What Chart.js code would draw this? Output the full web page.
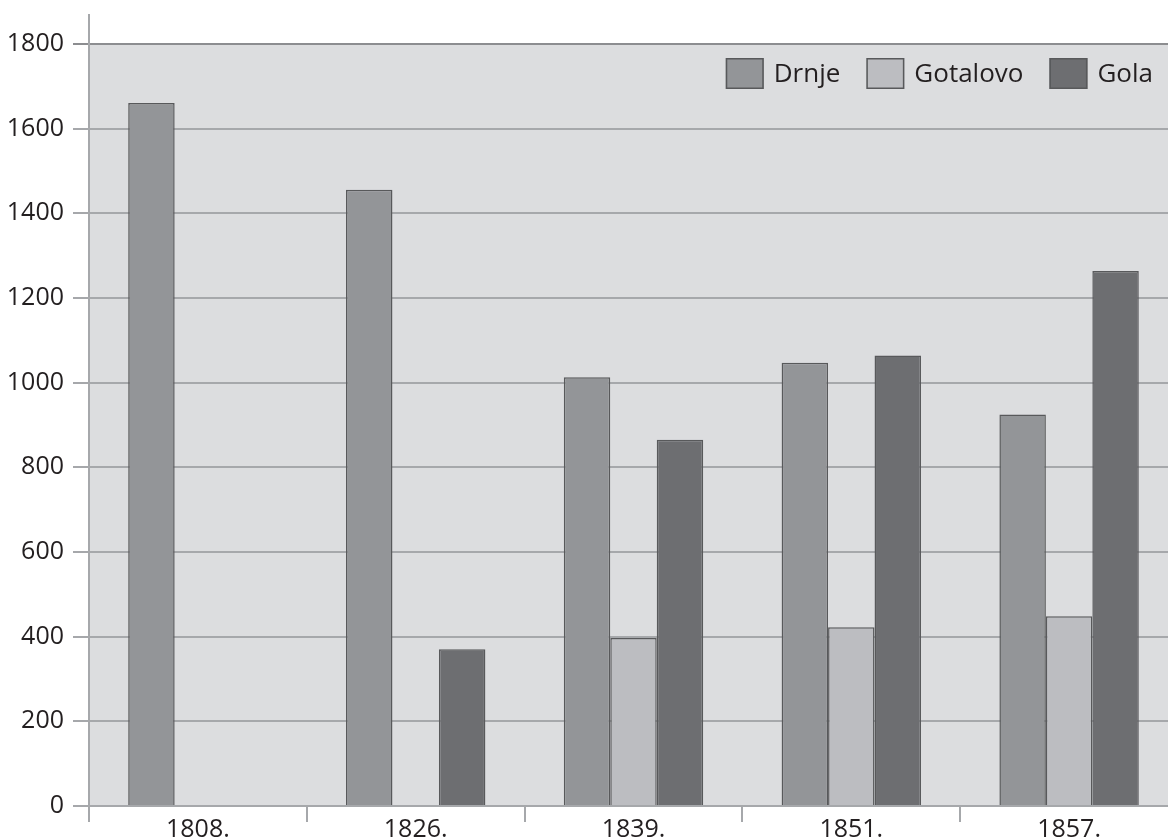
<!DOCTYPE html>
<html><head><meta charset="utf-8">
<script src="https://cdn.jsdelivr.net/npm/chart.js@4.4.1/dist/chart.umd.min.js"></script>
<style>
html,body{margin:0;padding:0;background:#fff;overflow:hidden;width:1168px;height:838px;}
#wrap{position:absolute;left:0;top:0;width:1180px;height:852px;}
</style></head>
<body>
<div id="wrap"><canvas id="c" width="1180" height="852"></canvas></div>
<script>
const categories = ['1808.', '1826.', '1839.', '1851.', '1857.'];
const seriesNames = ['Drnje', 'Gotalovo', 'Gola'];
const drnje = [1661, 1456, 1013, 1047, 925];
const gotalovo = [null, null, 397, 422, 448];
const gola = [null, 370, 865, 1064, 1264];
const yTicks = [0, 200, 400, 600, 800, 1000, 1200, 1400, 1600, 1800];

const FONT = '"Open Sans", "Noto Sans", sans-serif';
const colors = ['#939598', '#bcbdc1', '#6d6e71'];

const bgPlugin = {
  id: 'bg',
  beforeDraw(chart) {
    const {ctx, chartArea} = chart;
    const y = chart.scales.y;
    const top = y.getPixelForValue(1800);
    ctx.save();
    ctx.fillStyle = '#dcdddf';
    ctx.fillRect(chartArea.left, top, chartArea.right - chartArea.left, chartArea.bottom - top);
    ctx.restore();
  }
};

const legendPlugin = {
  id: 'customLegend',
  afterDraw(chart) {
    const {ctx} = chart;
    ctx.save();
    ctx.font = '26px ' + FONT;
    ctx.textBaseline = 'middle';
    const boxW = 38, boxH = 31, gap = 10, spacing = 26;
    const boxTop = 58;
    let x = 1153;
    const items = chart.data.datasets.map(d => ({label: d.label, color: d.backgroundColor}));
    for (let i = items.length - 1; i >= 0; i--) {
      const it = items[i];
      const tw = ctx.measureText(it.label).width;
      const tx = x - tw;
      const bx = tx - gap - boxW;
      ctx.fillStyle = it.color;
      ctx.fillRect(bx, boxTop, boxW, boxH);
      ctx.strokeStyle = '#58595b';
      ctx.lineWidth = 1.5;
      ctx.strokeRect(bx + 0.75, boxTop + 0.75, boxW - 1.5, boxH - 1.5);
      ctx.fillStyle = '#231f20';
      ctx.fillText(it.label, tx, boxTop + boxH / 2 + 1);
      x = bx - spacing;
    }
    ctx.restore();
  }
};

new Chart(document.getElementById('c'), {
  type: 'bar',
  data: {
    labels: categories,
    datasets: [
      {label: seriesNames[0], data: drnje, backgroundColor: colors[0]},
      {label: seriesNames[1], data: gotalovo, backgroundColor: colors[1]},
      {label: seriesNames[2], data: gola, backgroundColor: colors[2]}
    ].map(d => Object.assign(d, {borderColor: '#58595b', borderWidth: 1.5, categoryPercentage: 0.64, barPercentage: 1}))
  },
  options: {
    responsive: false,
    animation: false,
    devicePixelRatio: 1,
    layout: {padding: {top: 9, right: 2, left: 0, bottom: 0}},
    plugins: {legend: {display: false}, tooltip: {enabled: false}, title: {display: false}},
    scales: {
      x: {
        offset: true,
        afterFit(s) { s.height = 852 - 806; },
        grid: {offset: true, drawOnChartArea: false, drawTicks: true, tickLength: 16, color: '#a6a8ab', lineWidth: 2},
        border: {display: true, color: '#a6a8ab', width: 2},
        ticks: {font: {family: FONT, size: 25}, color: '#231f20', padding: -7, maxRotation: 0}
      },
      y: {
        min: 0,
        max: 1868,
        afterFit(s) { s.width = 89; },
        afterBuildTicks(s) { s.ticks = yTicks.map(v => ({value: v})); },
        grid: {
          drawTicks: true, tickLength: 16, lineWidth: 2,
          color: c => (c.tick && c.tick.value === 1800) ? '#8c8d90' : '#a6a8ab'
        },
        border: {display: true, color: '#a6a8ab', width: 2},
        ticks: {
          font: {family: FONT, size: 25, lineHeight: 0.5}, color: '#231f20', padding: 9,
          callback: v => String(v)
        }
      }
    }
  },
  plugins: [bgPlugin, legendPlugin]
});
</script>
</body></html>
